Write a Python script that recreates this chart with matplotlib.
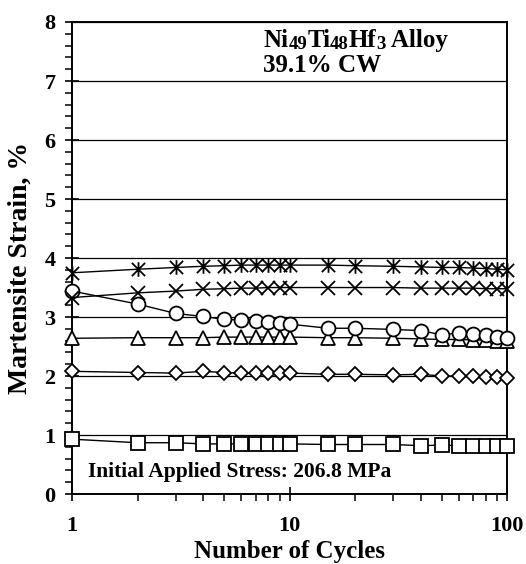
import matplotlib
matplotlib.use("Agg")
import matplotlib.pyplot as plt
from matplotlib.path import Path
from matplotlib.ticker import MultipleLocator, NullFormatter

plt.rcParams["font.family"] = "Liberation Serif"
plt.rcParams["font.weight"] = "bold"

# data
cycles = [1, 2, 3, 4, 5, 6, 7, 8, 9, 10, 15, 20, 30, 40, 50, 60, 70, 80, 90, 100]
star = [3.75, 3.81, 3.84, 3.86, 3.87, 3.88, 3.88, 3.88, 3.88, 3.88,
        3.88, 3.87, 3.86, 3.85, 3.84, 3.84, 3.83, 3.82, 3.81, 3.8]
cross = [3.33, 3.41, 3.44, 3.47, 3.48, 3.49, 3.49, 3.5, 3.5, 3.5,
         3.5, 3.5, 3.5, 3.49, 3.49, 3.49, 3.49, 3.48, 3.48, 3.48]
circle = [3.44, 3.22, 3.06, 3.01, 2.96, 2.95, 2.93, 2.91, 2.9, 2.88,
          2.81, 2.81, 2.79, 2.77, 2.7, 2.73, 2.72, 2.69, 2.67, 2.65]
triangle = [2.64, 2.65, 2.65, 2.65, 2.66, 2.66, 2.66, 2.66, 2.66, 2.66,
            2.65, 2.65, 2.64, 2.63, 2.62, 2.62, 2.61, 2.61, 2.6, 2.6]
diamond = [2.08, 2.06, 2.05, 2.08, 2.06, 2.05, 2.05, 2.05, 2.05, 2.05,
           2.03, 2.03, 2.02, 2.03, 2.0, 2.0, 2.0, 1.99, 1.98, 1.97]
square = [0.93, 0.87, 0.87, 0.85, 0.85, 0.85, 0.85, 0.85, 0.85, 0.85,
          0.84, 0.84, 0.84, 0.82, 0.83, 0.82, 0.82, 0.82, 0.82, 0.82]

# alloy name pieces: (text, small digits?)
alloy_parts = [("Ni", False), ("49", True), ("Ti", False), ("48", True),
               ("Hf", False), ("3", True), (" Alloy", False)]

# Ж-like asterisk marker
zh = Path([(-1, -1), (1, 1), (-1, 1), (1, -1), (0, -1.1), (0, 1.1)],
          [Path.MOVETO, Path.LINETO, Path.MOVETO, Path.LINETO, Path.MOVETO, Path.LINETO])

fig = plt.figure(figsize=(5.26, 5.64), dpi=100)
ax = fig.add_axes([0.137, 0.124, 0.827, 0.837])

kw = dict(color="black", lw=1.0, mfc="white", mec="black", mew=1.3, clip_on=False, zorder=3)
ax.plot(cycles, square, marker="s", ms=10, **kw)
ax.plot(cycles, diamond, marker="D", ms=7.5, **kw)
ax.plot(cycles, triangle, marker="^", ms=10.5, **kw)
ax.plot(cycles, circle, marker="o", ms=10, **kw)
ax.plot(cycles, cross, marker="x", ms=10, **kw)
ax.plot(cycles, star, marker=zh, ms=10.5, **kw)

ax.set_xscale("log")
ax.set_xlim(1, 100)
ax.set_ylim(0, 8)
ax.yaxis.set_major_locator(MultipleLocator(1))
ax.yaxis.set_minor_locator(MultipleLocator(0.2))
ax.set_xticks([1, 10, 100])
ax.set_xticklabels(["1", "10", "100"])
ax.xaxis.set_minor_formatter(NullFormatter())
ax.grid(axis="y", which="major", color="black", lw=0.9)
ax.set_axisbelow(True)
ax.tick_params(which="major", direction="inout", length=10, width=1.2, labelsize=16)
ax.tick_params(which="minor", direction="out", length=5, width=1.1)
ax.tick_params(axis="x", which="major", pad=11)
ax.tick_params(axis="y", which="major", pad=7)
for s in ax.spines.values():
    s.set_linewidth(1.4)

ax.set_xlabel("Number of Cycles", fontsize=18, fontweight="bold", va="baseline")
ax.xaxis.set_label_coords(0.5, -0.1356)
ax.set_ylabel("Martensite Strain, %", fontsize=20, fontweight="bold")
ax.yaxis.set_label_coords(-0.09, 0.479)

# alloy name, digits set smaller like in the original
first = ax.text(0.44, 0.947, alloy_parts[0][0], transform=ax.transAxes,
                fontsize=18, fontweight="bold", va="baseline", ha="left")
prev = first
for txt, small in alloy_parts[1:]:
    prev = ax.annotate(txt, xy=(1, 0), xycoords=(prev, first),
                       xytext=(0, -0.5 if small else 0), textcoords="offset points",
                       fontsize=13.5 if small else 18, fontweight="bold",
                       va="bottom", ha="left")
ax.text(0.44, 0.895, "39.1% CW", transform=ax.transAxes,
        fontsize=18, fontweight="bold", va="baseline", ha="left")
ax.text(0.037, 0.037, "Initial Applied Stress: 206.8 MPa", transform=ax.transAxes,
        fontsize=15.5, fontweight="bold", va="baseline", ha="left")

fig.savefig("out.png", dpi=100)
